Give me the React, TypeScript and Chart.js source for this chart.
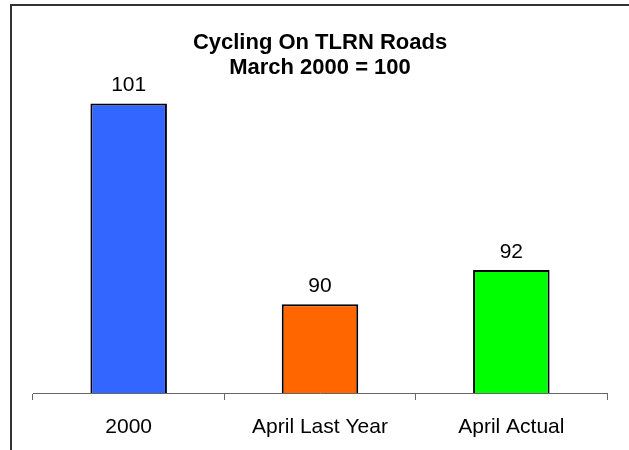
import React, { useEffect, useRef } from "react";
import { Chart, registerables } from "chart.js";

Chart.register(...registerables);

const categories = ["2000", "April Last Year", "April Actual"];
const values = [101.0, 89.9, 91.8];
const barColors = ["#3366FF", "#FF6600", "#00FF00"];
const titleLines = ["Cycling On TLRN Roads", "March 2000 = 100"];

const FONT = "'Liberation Sans', Arial, Helvetica, sans-serif";

const framePlugin = {
  id: "frame",
  afterDraw(chart: any) {
    const ctx = chart.ctx;
    ctx.save();
    ctx.strokeStyle = "#333333";
    ctx.lineWidth = 2;
    ctx.beginPath();
    ctx.moveTo(11, chart.height + 5);
    ctx.lineTo(11, 5);
    ctx.lineTo(chart.width, 5);
    ctx.stroke();
    ctx.restore();
  },
};

const valueLabelPlugin = {
  id: "valueLabels",
  afterDatasetsDraw(chart: any) {
    const ctx = chart.ctx;
    const meta = chart.getDatasetMeta(0);
    ctx.save();
    ctx.font = `21px ${FONT}`;
    ctx.fillStyle = "#000000";
    ctx.textAlign = "center";
    ctx.textBaseline = "middle";
    meta.data.forEach((bar: any, i: number) => {
      const v = chart.data.datasets[0].data[i];
      ctx.fillText(String(Math.round(v)), bar.x, bar.y - 18);
    });
    ctx.restore();
  },
};

export default function App() {
  const ref = useRef<HTMLCanvasElement | null>(null);
  useEffect(() => {
    if (!ref.current) return;
    const chart = new Chart(ref.current, {
      type: "bar",
      data: {
        labels: categories,
        datasets: [
          {
            data: values,
            backgroundColor: barColors,
            borderColor: "#000000",
            borderWidth: 2,
            categoryPercentage: 1,
            barPercentage: 0.4,
          },
        ],
      },
      options: {
        animation: false,
        responsive: true,
        maintainAspectRatio: false,
        layout: { padding: { left: 33, right: 22, top: 0, bottom: 0 } },
        plugins: {
          legend: { display: false },
          tooltip: { enabled: false },
          title: {
            display: true,
            text: titleLines,
            color: "#000000",
            font: { family: FONT, size: 22, weight: "bold", lineHeight: 1.15 },
            padding: { top: 30, bottom: 4.7 },
          },
        },
        scales: {
          x: {
            afterFit: (scale: any) => {
              scale.height = 57;
            },
            grid: {
              display: true,
              drawOnChartArea: false,
              drawTicks: true,
              tickLength: 7,
              color: "#666666",
              offset: true,
            },
            border: { display: true, color: "#666666", width: 1 },
            ticks: {
              color: "#000000",
              font: { family: FONT, size: 21 },
              padding: 15,
              maxRotation: 0,
              autoSkip: false,
            },
          },
          y: {
            display: false,
            min: 85,
            max: 102,
          },
        },
      },
      plugins: [framePlugin, valueLabelPlugin],
    });
    return () => chart.destroy();
  }, []);
  return (
    <div style={{ position: "fixed", left: 0, top: 0, width: 629, height: 450, background: "#ffffff" }}>
      <canvas ref={ref} />
    </div>
  );
}
